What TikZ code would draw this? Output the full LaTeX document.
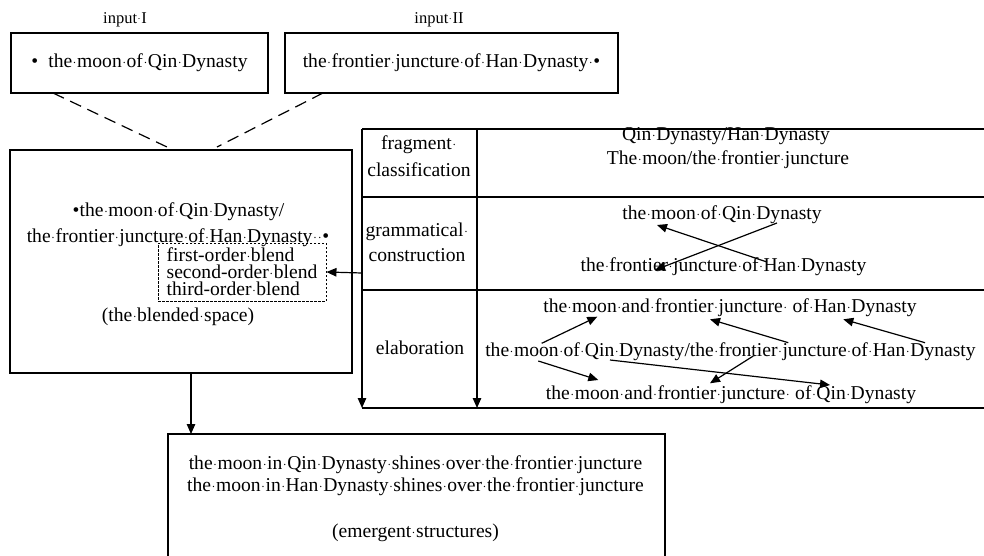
\documentclass[tikz,border=0pt]{standalone}
\usepackage{fontspec}
\usepackage{newunicodechar}
\setmainfont{Liberation Serif}
\usetikzlibrary{arrows.meta,calc}
\newunicodechar{·}{\makebox[0.25em][c]{\raisebox{0.24em}{\scalebox{0.6}{.}}}}
\begin{document}
\begin{tikzpicture}[x=1pt,y=-1pt,
  box/.style={draw,line width=1.3pt,inner sep=0pt},
  txt/.style={inner sep=0pt,font=\fontsize{19.6pt}{22pt}\selectfont,text height=13.7pt,text depth=4pt},
  lbl/.style={inner sep=0pt,font=\fontsize{16.5pt}{18pt}\selectfont},
  arr/.style={line width=1.2pt,-{Triangle[length=10pt,width=8.5pt]}},
  ln/.style={line width=1.2pt},
  dsh/.style={line width=1.2pt,dash pattern=on 12pt off 7pt},
  dbox/.style={draw,line width=0.9pt,dash pattern=on 2.5pt off 1.5pt,inner xsep=7pt,inner ysep=4pt,align=left,font=\fontsize{19.6pt}{17pt}\selectfont}]
\useasboundingbox (0,0) rectangle (984,556);
\clip (0,0) rectangle (984,556);
% inputs
\node[lbl] (lab1) at (125,20) {input·I};
\node[lbl] (lab2) at (439,20) {input·II};
\node[box,txt,minimum width=257pt,minimum height=60pt] (in1) at (139.5,63) {•\hspace{10pt}the·moon·of·Qin·Dynasty};
\node[box,txt,minimum width=333pt,minimum height=60pt] (in2) at (451.5,63) {the·frontier·juncture·of·Han·Dynasty·•};
% blended space
\node[box,minimum width=342pt,minimum height=223pt] (blended) at (181,261.5) {};
\node[txt] (bl1) at (178.5,212) {•the·moon·of·Qin·Dynasty/};
\node[txt] (bl2) at (178,238) {the·frontier·juncture·of·Han·Dynasty··•};
\node[dbox,minimum width=168pt,minimum height=58pt] (blend) at (242,272) {first-order·blend\\second-order·blend\\third-order·blend};
\node[txt] (bsp) at (178,317) {(the·blended·space)};
% dashed links
\coordinate (d1a) at (53,93);
\coordinate (d1b) at (167,147);
\coordinate (d2a) at (323,93);
\coordinate (d2b) at (217,147);
\draw[dsh] (d1a) -- (d1b);
\draw[dsh] (d2a) -- (d2b);
% table
\coordinate (tTL) at (362,129);
\coordinate (tBL) at (362,408);
\coordinate (cT) at (477,129);
\coordinate (cB) at (477,408);
\coordinate (tArr) at (362,273);
\draw[ln] (tTL) -- (984,129);
\draw[ln] (362,197) -- (984,197);
\draw[ln] (362,290) -- (984,290);
\draw[ln] (tBL) -- (984,408);
\draw[arr] (tTL) -- (tBL);
\draw[arr] (cT) -- (cB);
\draw[arr] (tArr) -- (blend.east);
% row labels
\node[txt] (r1a) at (419,145) {fragment·};
\node[txt] (r1b) at (419,172) {classification};
\node[txt] (r2a) at (417,232) {grammatical·};
\node[txt] (r2b) at (417,257) {construction};
\node[txt] (r3) at (420,350) {elaboration};
% row 1 content
\node[txt] (c1a) at (726,136) {Qin·Dynasty/Han·Dynasty};
\node[txt] (c1b) at (728,160) {The·moon/the·frontier·juncture};
% row 2 content
\node[txt] (c2a) at (722,215) {the·moon·of·Qin·Dynasty};
\node[txt] (c2b) at (723.5,267) {the·frontier·juncture·of·Han·Dynasty};
\coordinate (gA1) at (777,223);
\coordinate (gA2) at (655,270);
\coordinate (gB1) at (767,262);
\coordinate (gB2) at (657,225);
\draw[arr] (gA1) -- (gA2);
\draw[arr] (gB1) -- (gB2);
% row 3 content
\node[txt] (c3a) at (730,308) {the·moon·and·frontier·juncture·\ of·Han·Dynasty};
\node[txt] (c3b) at (730.5,352) {the·moon·of·Qin·Dynasty/the·frontier·juncture·of·Han·Dynasty};
\node[txt] (c3c) at (731,395) {the·moon·and·frontier·juncture·\ of·Qin·Dynasty};
\coordinate (e1a) at (541.7,343.3); \coordinate (e1b) at (597.3,316.7);
\coordinate (e2a) at (788.3,342.7); \coordinate (e2b) at (710,319.3);
\coordinate (e3a) at (925,342.7);   \coordinate (e3b) at (843.3,319.3);
\coordinate (e4a) at (538.3,361);   \coordinate (e4b) at (598.3,380);
\coordinate (e5a) at (753.3,356);   \coordinate (e5b) at (710,383.3);
\coordinate (e6a) at (610,360);     \coordinate (e6b) at (830,385);
\foreach \i in {1,...,6} {\draw[arr] (e\i a) -- (e\i b);}
% emergent structure
\node[box,minimum width=497pt,minimum height=166pt] (emerg) at (416.5,517) {};
\node[txt] (em1) at (415.5,465) {the·moon·in·Qin·Dynasty·shines·over·the·frontier·juncture};
\node[txt] (em2) at (415.5,487) {the·moon·in·Han·Dynasty·shines·over·the·frontier·juncture};
\node[txt] (em3) at (415.5,533) {(emergent·structures)};
\coordinate (bdown) at (191,373);
\draw[arr] (bdown) -- (191,434);
\end{tikzpicture}
\end{document}
